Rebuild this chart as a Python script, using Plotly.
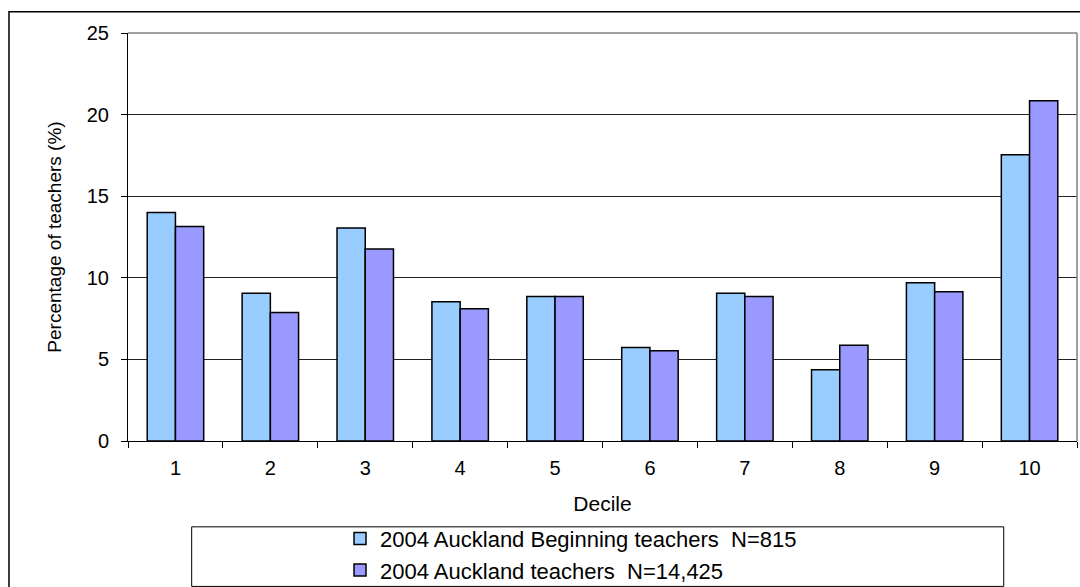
import plotly.graph_objects as go

# values
deciles = ["1", "2", "3", "4", "5", "6", "7", "8", "9", "10"]
beginning = [14.0, 9.06, 13.05, 8.53, 8.86, 5.73, 9.06, 4.37, 9.69, 17.54]
all_teachers = [13.15, 7.88, 11.77, 8.1, 8.86, 5.53, 8.86, 5.86, 9.14, 20.85]

name_beg = "2004 Auckland Beginning teachers  N=815"
name_all = "2004 Auckland teachers  N=14,425"

font = "Liberation Sans, Arial, sans-serif"

fig = go.Figure()
fig.add_trace(go.Bar(
    x=deciles, y=beginning, name=name_beg,
    marker=dict(color="#99CCFF", line=dict(color="black", width=1.5)),
))
fig.add_trace(go.Bar(
    x=deciles, y=all_teachers, name=name_all,
    marker=dict(color="#9999FF", line=dict(color="black", width=1.5)),
))

fig.update_layout(
    width=1080, height=587,
    margin=dict(l=128, r=3, t=33, b=146, autoexpand=False),
    paper_bgcolor="white", plot_bgcolor="white",
    barmode="group", bargap=0.405, bargroupgap=0,
    font=dict(family=font, color="black", size=20),
    showlegend=True,
    legend=dict(
        orientation="v", x=0.2234, xanchor="left", y=-0.188, yanchor="top",
        bgcolor="rgba(0,0,0,0)", borderwidth=0,
        font=dict(family=font, size=22, color="black"),
        tracegroupgap=0,
    ),
)

fig.update_xaxes(
    type="category", tickson="boundaries",
    ticks="outside", ticklen=6, tickcolor="black", tickwidth=1,
    showline=True, linecolor="black", linewidth=1,
    showgrid=False,
    tickfont=dict(size=20), ticklabelstandoff=9,
    title=dict(text="Decile", font=dict(size=21), standoff=18),
)
fig.update_yaxes(
    range=[0, 25], dtick=5,
    ticks="outside", ticklen=6, tickcolor="black", tickwidth=1,
    showline=True, linecolor="black", linewidth=1,
    showgrid=True, gridcolor="#222222", gridwidth=1,
    zeroline=False,
    tickfont=dict(size=20), ticklabelstandoff=8,
    title=dict(text="Percentage of teachers (%)", font=dict(size=19), standoff=20),
)

# grey plot-area frame (top and right)
fig.add_shape(type="line", xref="paper", yref="paper", x0=0, x1=1, y0=1, y1=1,
              line=dict(color="#808080", width=1.5))
fig.add_shape(type="line", xref="paper", yref="paper", x0=1, x1=1, y0=0, y1=1,
              line=dict(color="#808080", width=1.5))

# legend box
fig.add_shape(type="rect", xref="paper", yref="paper",
              x0=0.0671, x1=0.9228, y0=-0.2104, y1=-0.3564,
              line=dict(color="black", width=1))

# outer chart border
fig.add_shape(type="rect", xref="paper", yref="paper",
              x0=-0.1254, x1=1.02, y0=1.0522, y1=-0.40,
              line=dict(color="black", width=1.5))

fig.write_html("out.html", config={"displayModeBar": False},
               post_script="document.body.style.margin='0';document.body.style.overflow='hidden';")
